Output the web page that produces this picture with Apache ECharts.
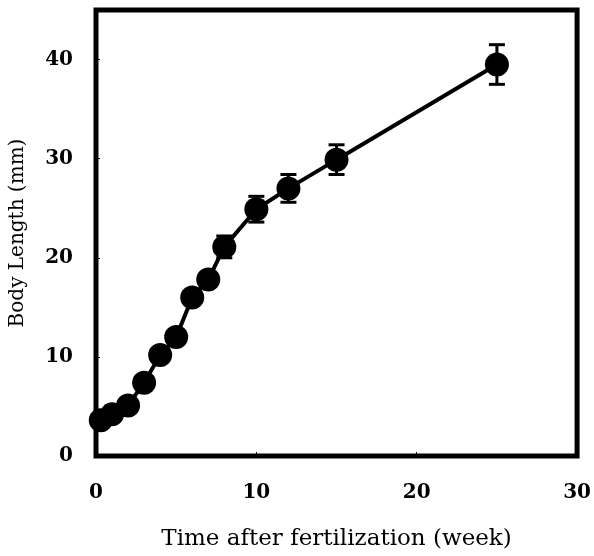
<!DOCTYPE html>
<html><head><meta charset="utf-8">
<script src="https://cdn.jsdelivr.net/npm/echarts@6/dist/echarts.min.js"></script>
<style>html,body{margin:0;padding:0;background:#fff}#c{width:594px;height:556px}</style>
</head><body><div id="c"></div>
<script>
var weeks = [0.3, 1, 2, 3, 4, 5, 6, 7, 8, 10, 12, 15, 25];
var lengths = [3.6, 4.2, 5.1, 7.4, 10.2, 12.0, 16.0, 17.8, 21.1, 24.9, 27.0, 29.9, 39.5];
var errors = [0.3, 0.3, 0.3, 0.4, 0.4, 0.5, 0.6, 0.6, 1.1, 1.3, 1.4, 1.5, 2.0];
var xTicks = [0, 10, 20, 30];
var yTicks = [0, 10, 20, 30, 40];

var pts = weeks.map(function(w, i){ return [w, lengths[i]]; });
var errData = weeks.map(function(w, i){ return [w, lengths[i] - errors[i], lengths[i] + errors[i]]; });
var font = "'DejaVu Serif', 'Liberation Serif', serif";

var chart = echarts.init(document.getElementById('c'), null, {renderer:'canvas'});
chart.setOption({
  animation:false,
  grid:{left:95, right:14, top:10, bottom:96, show:true, borderColor:'#000', borderWidth:5, backgroundColor:'transparent'},
  xAxis:{type:'value', min:0, max:30, interval:10,
    name:'Time after fertilization (week)', nameLocation:'middle', nameGap:72,
    nameTextStyle:{fontFamily:font, fontSize:23, color:'#000'},
    axisLine:{show:false}, splitLine:{show:false},
    axisTick:{inside:true, length:4, lineStyle:{color:'#000', width:1}},
    axisLabel:{margin:27, fontFamily:font, fontSize:20, fontWeight:'bold', color:'#000',
      formatter:function(v){ return xTicks.indexOf(v) >= 0 ? String(v) : ''; }}
  },
  yAxis:{type:'value', min:0, max:45, interval:10,
    name:'Body Length (mm)', nameLocation:'middle', nameGap:68, nameRotate:90,
    nameTextStyle:{fontFamily:font, fontSize:20, color:'#000'},
    axisLine:{show:false}, splitLine:{show:false},
    axisTick:{inside:true, length:4, lineStyle:{color:'#000', width:1}},
    axisLabel:{margin:23, fontFamily:font, fontSize:20, fontWeight:'bold', color:'#000', showMaxLabel:false,
      formatter:function(v){ return yTicks.indexOf(v) >= 0 ? String(v) : ''; }}
  },
  series:[
    {type:'custom', data:errData, z:3,
      renderItem:function(params, api){
        var x = api.value(0);
        var lo = api.coord([x, api.value(1)]);
        var hi = api.coord([x, api.value(2)]);
        var hw = 8;
        var st = {stroke:'#000', lineWidth:3};
        return {type:'group', children:[
          {type:'line', shape:{x1:lo[0], y1:lo[1], x2:hi[0], y2:hi[1]}, style:st},
          {type:'line', shape:{x1:lo[0]-hw, y1:lo[1], x2:lo[0]+hw, y2:lo[1]}, style:st},
          {type:'line', shape:{x1:hi[0]-hw, y1:hi[1], x2:hi[0]+hw, y2:hi[1]}, style:st}
        ]};
      }
    },
    {type:'line', data:pts, z:4, symbol:'circle', symbolSize:24,
      lineStyle:{color:'#000', width:4},
      itemStyle:{color:'#000', borderWidth:0}
    }
  ]
});
</script></body></html>
